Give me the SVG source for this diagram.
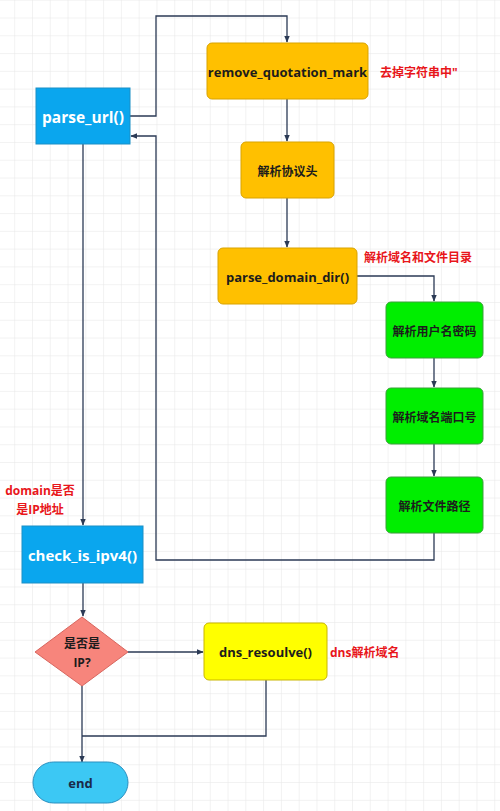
<svg xmlns="http://www.w3.org/2000/svg" width="500" height="811" viewBox="0 0 500 811">
<defs>
<pattern id="grid" x="14.2" y="17.5" width="17.78" height="17.78" patternUnits="userSpaceOnUse">
<path d="M0 0H17.78M0 0V17.78" fill="none" stroke="#e6e6e6" stroke-width="1"/>
</pattern>
<marker id="arr" viewBox="0 0 10 10" refX="9" refY="5" markerWidth="7" markerHeight="7" markerUnits="userSpaceOnUse" orient="auto">
<path d="M0 1L10 5L0 9Z" fill="#2b3a55"/>
</marker>
<style>
.t{font-family:"Open Sans","Noto Sans CJK SC",sans-serif;font-weight:bold;text-anchor:middle;dominant-baseline:central;fill:#1c1c1c}
.w{fill:#ffffff}
.r{font-family:"Open Sans","Noto Sans CJK SC",sans-serif;font-weight:bold;dominant-baseline:central;fill:#e8161b;font-size:12px}
.blue{fill:#0aa6ee;stroke:#1b8fc6;stroke-width:1}
.orange{fill:#ffc000;stroke:#d9a300;stroke-width:1}
.green{fill:#00ee00;stroke:#3aa13a;stroke-width:1}
.yellow{fill:#ffff00;stroke:#c9b600;stroke-width:1}
.c{fill:none;stroke:#2b3a55;stroke-width:1.3}
</style>
</defs>
<rect width="500" height="811" fill="#ffffff"/>
<rect width="500" height="811" fill="url(#grid)"/>

<g id="connectors">
<path class="c" d="M130 116H156V16H287V42" marker-end="url(#arr)"/>
<path class="c" d="M287 99V141" marker-end="url(#arr)"/>
<path class="c" d="M287 198V247" marker-end="url(#arr)"/>
<path class="c" d="M357 276H434V301" marker-end="url(#arr)"/>
<path class="c" d="M434 358V387" marker-end="url(#arr)"/>
<path class="c" d="M434 444V476" marker-end="url(#arr)"/>
<path class="c" d="M434 533V560H156V136H131" marker-end="url(#arr)"/>
<path class="c" d="M83 144V525" marker-end="url(#arr)"/>
<path class="c" d="M83 583V616" marker-end="url(#arr)"/>
<path class="c" d="M128 652H203" marker-end="url(#arr)"/>
<path class="c" d="M266 680V736H82"/>
<path class="c" d="M82 686V762" marker-end="url(#arr)"/>
</g>

<g id="parse_url">
<rect class="blue" x="36" y="88" width="94" height="56"/>
<text class="t w" x="83" y="117" font-size="15.5">parse_url()</text>
</g>

<g id="remove_quotation_mark">
<rect class="orange" x="207" y="43" width="161" height="56" rx="5"/>
<text class="t" x="287.5" y="72" font-size="13">remove_quotation_mark</text>
</g>
<g id="label_remove">
<text class="r" x="380" y="72">去掉字符串中"</text>
</g>

<g id="parse_protocol">
<rect class="orange" x="241" y="142" width="93" height="56" rx="5"/>
<text class="t" x="287.5" y="171" font-size="12">解析协议头</text>
</g>

<g id="parse_domain_dir">
<rect class="orange" x="218" y="248" width="139" height="56" rx="5"/>
<text class="t" x="287.5" y="277" font-size="13">parse_domain_dir()</text>
</g>
<g id="label_domain_dir">
<text class="r" x="364" y="257">解析域名和文件目录</text>
</g>

<g id="parse_user">
<rect class="green" x="386" y="302" width="97" height="56" rx="5"/>
<text class="t" x="434.5" y="331" font-size="12">解析用户名密码</text>
</g>

<g id="parse_port">
<rect class="green" x="386" y="388" width="97" height="56" rx="5"/>
<text class="t" x="434.5" y="417" font-size="12">解析域名端口号</text>
</g>

<g id="parse_path">
<rect class="green" x="386" y="477" width="97" height="56" rx="5"/>
<text class="t" x="434.5" y="506" font-size="12">解析文件路径</text>
</g>

<g id="label_ipv4">
<text class="r" x="40" y="490" text-anchor="middle">domain是否</text>
<text class="r" x="40" y="509" text-anchor="middle">是IP地址</text>
</g>

<g id="check_is_ipv4">
<rect class="blue" x="22" y="526" width="121" height="57"/>
<text class="t w" x="82.5" y="555" font-size="15">check_is_ipv4()</text>
</g>

<g id="is_ip">
<path d="M82 617L128 652L82 686L35 652Z" fill="#f7857c" stroke="#d8665e" stroke-width="1"/>
<text class="t" x="82" y="643" font-size="12">是否是</text>
<text class="t" x="82" y="662" font-size="12">IP?</text>
</g>

<g id="dns_resoulve">
<rect class="yellow" x="204" y="623" width="123" height="57" rx="5"/>
<text class="t" x="265.5" y="652" font-size="13">dns_resoulve()</text>
</g>
<g id="label_dns">
<text class="r" x="330" y="652">dns解析域名</text>
</g>

<g id="end">
<rect x="33" y="762" width="95" height="41" rx="20.5" fill="#3cc8f4" stroke="#2a8fbf" stroke-width="1"/>
<text class="t" x="80.5" y="783" font-size="13" fill="#1a2a48" style="fill:#1a2a48">end</text>
</g>
</svg>
